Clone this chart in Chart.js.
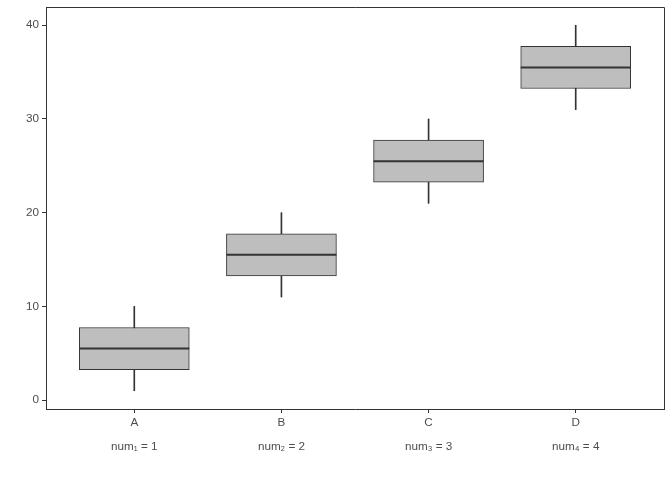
<!DOCTYPE html>
<html>
<head>
<meta charset="utf-8">
<script src="https://cdn.jsdelivr.net/npm/chart.js@4.4.1/dist/chart.umd.min.js"></script>
<style>
  body { margin: 0; background: #fff; }
</style>
</head>
<body>
<canvas id="boxChart" width="672" height="480"></canvas>
<script>
const categories = ['A', 'B', 'C', 'D'];
const subLabels = ['num\u2081 = 1', 'num\u2082 = 2', 'num\u2083 = 3', 'num\u2084 = 4'];
const mins = [1, 11, 21, 31];
const q1s = [3.25, 13.25, 23.25, 33.25];
const medians = [5.5, 15.5, 25.5, 35.5];
const q3s = [7.75, 17.75, 27.75, 37.75];
const maxs = [10, 20, 30, 40];
const yTicks = [0, 10, 20, 30, 40];

const lineColor = '#333333';
const textColor = '#4D4D4D';
const font = { family: 'Liberation Sans, Arial, sans-serif', size: 11.7 };

// whiskers and boxes are floating bars on a linear x scale (1..4)
const whiskerData = categories.map((c, i) => ({ x: i + 1, y: [mins[i], maxs[i]] }));
const boxData = categories.map((c, i) => ({ x: i + 1, y: [q1s[i], q3s[i]] }));

// median line across each box
const medianPlugin = {
    id: 'medianLines',
    afterDatasetsDraw(chart) {
        const ctx = chart.ctx;
        const y = chart.scales.y;
        const boxes = chart.getDatasetMeta(1).data;
        ctx.save();
        ctx.strokeStyle = lineColor;
        ctx.lineWidth = 2;
        medians.forEach((m, i) => {
            const bar = boxes[i];
            const py = y.getPixelForValue(m);
            ctx.beginPath();
            ctx.moveTo(bar.x - bar.width / 2, py);
            ctx.lineTo(bar.x + bar.width / 2, py);
            ctx.stroke();
        });
        ctx.restore();
    }
};

// top and right edges of the panel
const framePlugin = {
    id: 'panelFrame',
    afterDraw(chart) {
        const { ctx, chartArea: a } = chart;
        ctx.save();
        ctx.strokeStyle = lineColor;
        ctx.lineWidth = 1;
        ctx.beginPath();
        ctx.moveTo(a.left, Math.round(a.top) + 0.5);
        ctx.lineTo(Math.round(a.right) + 0.5, Math.round(a.top) + 0.5);
        ctx.lineTo(Math.round(a.right) + 0.5, a.bottom);
        ctx.stroke();
        ctx.restore();
    }
};

new Chart(document.getElementById('boxChart'), {
    type: 'bar',
    data: {
        datasets: [
            {
                label: 'whisker',
                data: whiskerData,
                backgroundColor: lineColor,
                barThickness: 1,
                grouped: false,
                order: 2
            },
            {
                label: 'box',
                data: boxData,
                backgroundColor: '#BEBEBE',
                borderColor: lineColor,
                borderWidth: 1,
                borderSkipped: false,
                barThickness: 110,
                grouped: false,
                order: 1
            }
        ]
    },
    options: {
        responsive: false,
        animation: false,
        layout: { padding: { top: 7, right: 8, left: 0, bottom: 0 } },
        plugins: {
            legend: { display: false },
            tooltip: { enabled: false }
        },
        scales: {
            x: {
                type: 'linear',
                min: 0.4,
                max: 4.6,
                offset: false,
                afterBuildTicks: function(scale) {
                    scale.ticks = categories.map((c, i) => ({ value: i + 1 }));
                },
                afterFit: function(scale) {
                    scale.height = 71;
                    scale.paddingLeft = 0;
                    scale.paddingRight = 0;
                },
                grid: { drawOnChartArea: false, offset: false, color: lineColor, tickLength: 4 },
                border: { display: true, color: lineColor, width: 1 },
                ticks: {
                    color: textColor,
                    font: Object.assign({ lineHeight: 2.05 }, font),
                    padding: -2,
                    maxRotation: 0,
                    autoSkip: false,
                    callback: function(value, index) {
                        return [categories[index], subLabels[index]];
                    }
                }
            },
            y: {
                min: -0.95,
                max: 41.95,
                afterBuildTicks: function(scale) {
                    scale.ticks = yTicks.map(v => ({ value: v }));
                },
                afterFit: function(scale) {
                    scale.width = 46;
                    scale.paddingTop = 0;
                    scale.paddingBottom = 0;
                },
                grid: { drawOnChartArea: false, color: lineColor, tickLength: 4 },
                border: { display: true, color: lineColor, width: 1 },
                ticks: {
                    color: textColor,
                    font: font,
                    padding: 3
                }
            }
        }
    },
    plugins: [medianPlugin, framePlugin]
});
</script>
</body>
</html>
